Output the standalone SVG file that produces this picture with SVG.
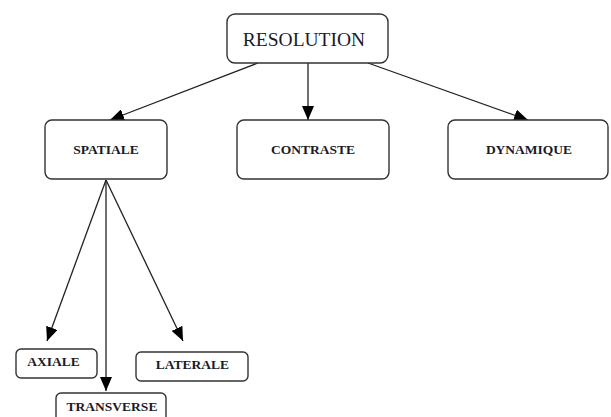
<svg xmlns="http://www.w3.org/2000/svg" width="611" height="417" viewBox="0 0 611 417">
<style>
.box{fill:#fff;stroke:#333;stroke-width:1.4}
.t{font-family:"Liberation Serif","Times New Roman",serif;fill:#1a1a28;text-anchor:middle}
.b{font-weight:bold;font-size:13.5px}
.c{stroke:#222;stroke-width:1.3;fill:none;marker-end:url(#ah)}
</style>
<defs>
<marker id="ah" markerUnits="userSpaceOnUse" markerWidth="14" markerHeight="12" viewBox="0 0 14 12" refX="14" refY="6" orient="auto">
<path d="M0,0 L14,6 L0,12 Z" fill="#000"/>
</marker>
</defs>
<rect width="611" height="417" fill="#fff"/>
<g id="connectors">
<line class="c" x1="258" y1="63" x2="110" y2="120"/>
<line class="c" x1="308" y1="63" x2="308" y2="120"/>
<line class="c" x1="368" y1="63" x2="528" y2="120"/>
<line class="c" x1="106" y1="180" x2="47" y2="341"/>
<line class="c" x1="106" y1="180" x2="106" y2="391"/>
<line class="c" x1="106" y1="180" x2="183" y2="341"/>
</g>
<g id="resolution">
<rect class="box" x="227" y="14" width="161" height="49" rx="8"/>
<text class="t" x="304" y="46" font-size="19.5">RESOLUTION</text>
</g>
<g id="spatiale">
<rect class="box" x="45" y="120" width="122" height="59" rx="7"/>
<text class="t b" x="106" y="154">SPATIALE</text>
</g>
<g id="contraste">
<rect class="box" x="237" y="120" width="152" height="59" rx="7"/>
<text class="t b" x="313" y="154">CONTRASTE</text>
</g>
<g id="dynamique">
<rect class="box" x="448" y="120" width="160" height="59" rx="7"/>
<text class="t b" x="529" y="154">DYNAMIQUE</text>
</g>
<g id="axiale">
<rect class="box" x="16" y="349" width="81" height="29" rx="5"/>
<text class="t b" x="53.5" y="366">AXIALE</text>
</g>
<g id="laterale">
<rect class="box" x="136" y="352" width="112" height="29" rx="5"/>
<text class="t b" x="192.5" y="369">LATERALE</text>
</g>
<g id="transverse">
<rect class="box" x="56" y="393" width="110" height="30" rx="5"/>
<text class="t b" x="112" y="411">TRANSVERSE</text>
</g>
</svg>
